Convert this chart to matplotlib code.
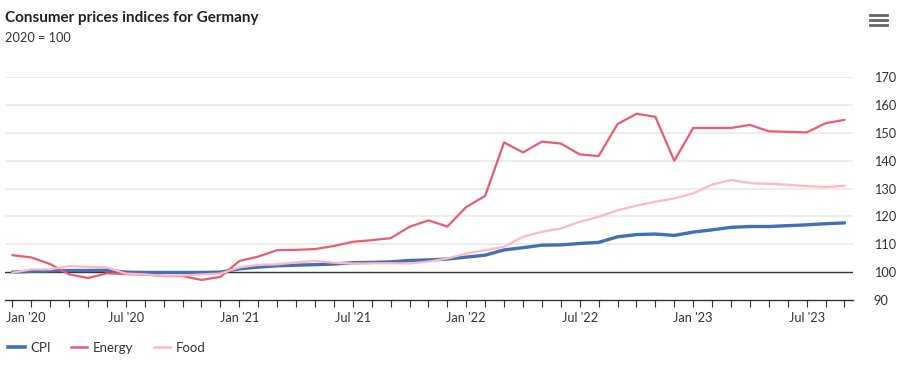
import matplotlib
matplotlib.use("Agg")
import matplotlib.pyplot as plt
import matplotlib.transforms as mtransforms
from matplotlib.lines import Line2D
import numpy as np

# ---- data (monthly, Jan 2020 .. Sep 2023) ----
cpi = [100.0, 100.3, 100.5, 100.6, 100.6, 100.7, 100.0, 99.9, 99.9, 99.9, 99.9, 100.0,
       101.2, 101.8, 102.3, 102.5, 102.7, 102.9, 103.4, 103.5, 103.7, 104.2, 104.4, 104.7,
       105.4, 106.1, 108.0, 108.8, 109.7, 109.8, 110.3, 110.7, 112.7, 113.5, 113.7, 113.2,
       114.4, 115.2, 116.1, 116.4, 116.4, 116.7, 117.0, 117.4, 117.7]
energy = [106.1, 105.3, 102.9, 99.2, 97.9, 99.6, 99.3, 99.1, 98.6, 98.6, 97.2, 98.3,
          104.0, 105.6, 107.9, 108.0, 108.3, 109.4, 110.9, 111.5, 112.2, 116.3, 118.6, 116.4,
          123.4, 127.4, 146.6, 143.0, 146.9, 146.2, 142.3, 141.7, 153.2, 156.9, 155.8, 140.0,
          151.8, 151.8, 151.8, 152.9, 150.6, 150.4, 150.2, 153.5, 154.7]
food = [99.8, 101.0, 101.0, 102.2, 101.9, 101.7, 99.5, 99.2, 98.7, 98.8, 99.2, 99.5,
        101.7, 102.6, 102.8, 103.5, 104.0, 103.4, 103.1, 103.2, 103.2, 103.1, 103.8, 104.9,
        106.7, 107.9, 109.1, 112.7, 114.5, 115.7, 118.1, 119.9, 122.2, 123.9, 125.3, 126.5,
        128.3, 131.5, 133.1, 132.0, 131.7, 131.4, 130.9, 130.6, 131.0]
series_names = ["CPI", "Energy", "Food"]
x_tick_labels = ["Jan '20", "Jul '20", "Jan '21", "Jul '21", "Jan '22", "Jul '22", "Jan '23", "Jul '23"]
y_ticks = [90, 100, 110, 120, 130, 140, 150, 160, 170]

colors = {"CPI": "#4170b7", "Energy": "#ec5b70", "Food": "#ffb8c0"}
widths = {"CPI": 2.4, "Energy": 1.6, "Food": 1.6}

plt.rcParams['font.family'] = ['Lato', 'DejaVu Sans']

W, H = 906, 365
fig = plt.figure(figsize=(W / 100, H / 100), dpi=100)
left_px, right_px, top_px, bot_px = 5, 853, 77.3, 300
ax = fig.add_axes([left_px / W, 1 - bot_px / H, (right_px - left_px) / W, (bot_px - top_px) / H])

months = np.arange(len(cpi))
data = {"CPI": cpi, "Energy": energy, "Food": food}

# gridlines
for v in y_ticks[1:]:
    if v == 100:
        continue
    ax.axhline(v, color="#ececec", lw=1.3, zorder=0)
ax.axhline(100, color="#333333", lw=1.0, zorder=1)

for name in series_names:
    ax.plot(months, data[name], color=colors[name], lw=widths[name], zorder=3,
            solid_joinstyle="round", solid_capstyle="round", label=name)

ax.set_xlim(-0.39, 44.45)
ax.set_ylim(90, 170)

for s in ["top", "right", "left"]:
    ax.spines[s].set_visible(False)
ax.spines["bottom"].set_color("#333333")
ax.spines["bottom"].set_linewidth(1.0)

ax.set_xticks(np.arange(0, len(cpi), 6))
ax.set_xticklabels(x_tick_labels)
ax.set_xticks(months, minor=True)
ax.tick_params(axis="x", which="both", direction="out", length=5, width=0.8,
               color="#333333", labelsize=9.2, labelcolor="#333333", pad=4)
# shift first label to the right edge like the reference
lbl0 = ax.get_xticklabels()[0]
lbl0.set_horizontalalignment("left")
lbl0.set_transform(lbl0.get_transform() + mtransforms.ScaledTranslation(-6 / 100, 0, fig.dpi_scale_trans))

ax.yaxis.tick_right()
ax.set_yticks(y_ticks)
ax.set_yticklabels([str(v) for v in y_ticks])
ax.tick_params(axis="y", length=0, labelsize=9.2, labelcolor="#333333", pad=15)
ax.patch.set_alpha(0)

# title / subtitle
fig.text(5 / W, 1 - 18 / H, "Consumer prices indices for Germany", fontsize=11,
         fontweight="bold", color="#222222", va="center", ha="left")
fig.text(5 / W, 1 - 38 / H, "2020 = 100", fontsize=9.2, color="#333333", va="center", ha="left")

# hamburger menu icon
for yy in (15, 20, 25):
    fig.add_artist(Line2D([870 / W, 887 / W], [1 - yy / H, 1 - yy / H], color="#666666",
                          lw=2.0, transform=fig.transFigure))

# legend
handles = [Line2D([], [], color=colors[n], lw=widths[n] + 0.2) for n in series_names]
fig.legend(handles, series_names, loc="center left", bbox_to_anchor=(-0.004, 1 - 348 / H),
           ncol=3, frameon=False, fontsize=9.5, handlelength=1.25, handletextpad=0.4,
           columnspacing=1.55, labelcolor="#333333")

fig.savefig("out.png", dpi=100)
